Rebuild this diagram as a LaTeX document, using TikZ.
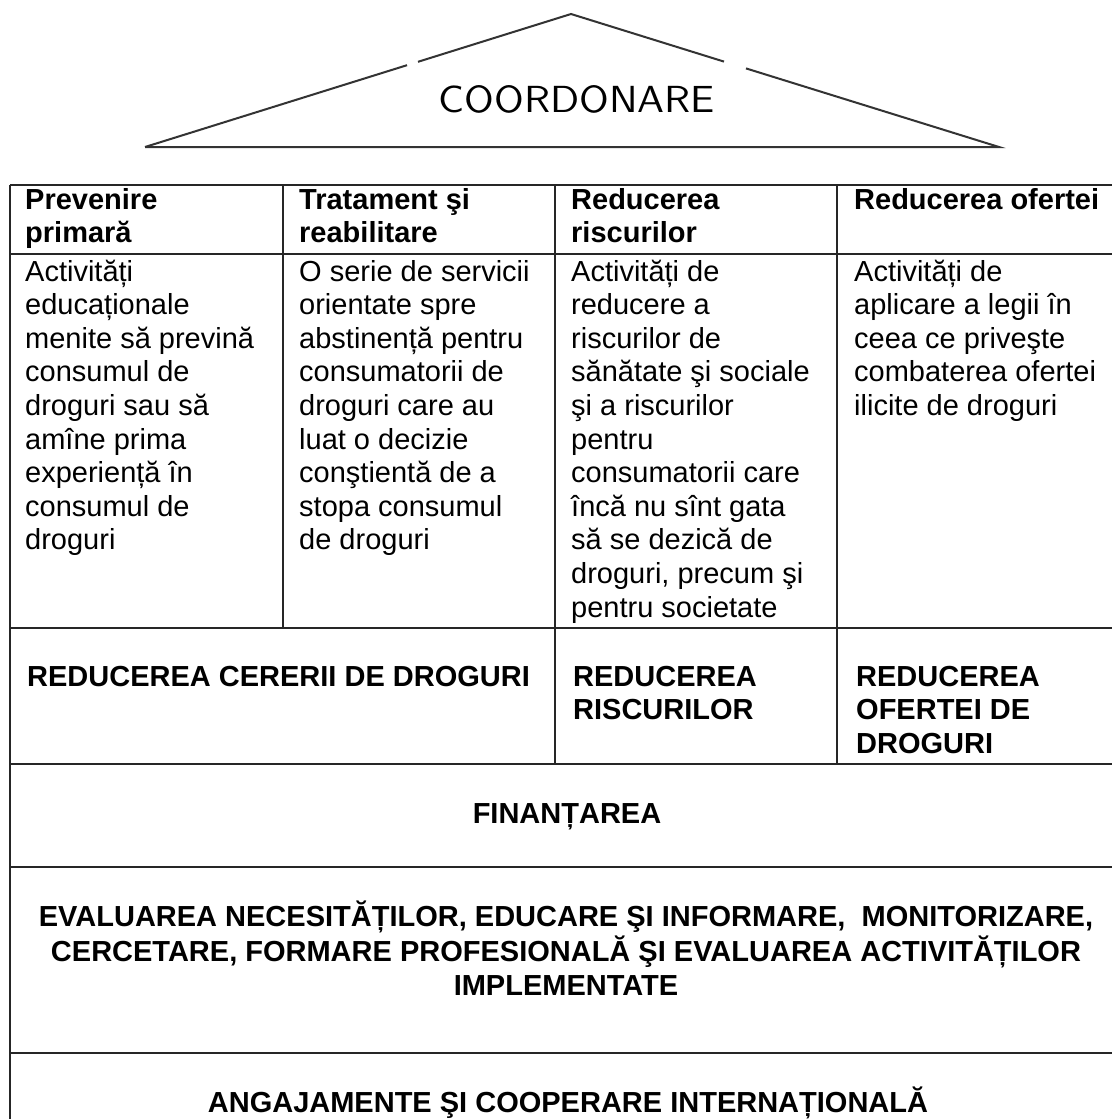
\documentclass[tikz,border=0pt]{standalone}
\usepackage{fontspec}
\usepackage{graphicx}
\setmainfont{Liberation Sans}
\newcommand{\lns}[2][l]{\begin{tabular}[t]{@{}#1@{}}#2\end{tabular}}
\begin{document}
\begin{tikzpicture}[x=1pt,y=-1pt,
  rule/.style={line width=2pt, draw=black!85},
  roof/.style={line width=2pt, draw=black!80},
  hd/.style={anchor=base west, inner sep=0pt, font=\fontsize{29}{33.6}\selectfont\bfseries},
  bd/.style={anchor=base west, inner sep=0pt, font=\fontsize{29}{33.6}\selectfont},
  ct/.style={anchor=base, inner sep=0pt, font=\fontsize{29}{33.6}\selectfont\bfseries},
  ttl/.style={anchor=base, inner sep=0pt}]
\fill[white] (0,0) rectangle (1111,1119);
\useasboundingbox (0,0) rectangle (1111,1119);

% roof
\coordinate (apex) at (571,14);
\coordinate (bl) at (145,147);
\coordinate (br) at (999,147);
\coordinate (gl1) at (407,65.2);
\coordinate (gl2) at (418,61.8);
\coordinate (gr1) at (724,61.6);
\coordinate (gr2) at (746,68.4);
\draw[roof] (bl) -- (gl1) (gl2) -- (apex) -- (gr1) (gr2) -- (br) -- (bl);
\node[ttl] (coord) at (577,112) {\resizebox{276pt}{27pt}{\sffamily COORDONARE}};

% table grid
\draw[rule] (10,185) -- (1125,185);
\draw[rule] (10,185) -- (10,1125);
\draw[rule] (10,254) -- (1125,254);
\draw[rule] (10,628) -- (1125,628);
\draw[rule] (10,764) -- (1125,764);
\draw[rule] (10,867) -- (1125,867);
\draw[rule] (10,1053) -- (1125,1053);
\draw[rule] (283,185) -- (283,628);
\draw[rule] (555,185) -- (555,764);
\draw[rule] (837,185) -- (837,764);

% header
\node[hd] (h1) at (25,209) {\lns{Prevenire\\primară}};
\node[hd] (h2) at (299,209) {\lns{Tratament şi\\reabilitare}};
\node[hd] (h3) at (571,209) {\lns{Reducerea\\riscurilor}};
\node[hd] (h4) at (854,209) {\lns{Reducerea ofertei}};

% body
\node[bd] (b1) at (25,281) {\lns{Activități\\educaționale\\menite să prevină\\consumul de\\droguri sau să\\amîne prima\\experiență în\\consumul de\\droguri}};
\node[bd] (b2) at (299,281) {\lns{O serie de servicii\\orientate spre\\abstinență pentru\\consumatorii de\\droguri care au\\luat o decizie\\conştientă de a\\stopa consumul\\de droguri}};
\node[bd] (b3) at (571,281) {\lns{Activități de\\reducere a\\riscurilor de\\sănătate şi sociale\\şi a riscurilor\\pentru\\consumatorii care\\încă nu sînt gata\\să se dezică de\\droguri, precum şi\\pentru societate}};
\node[bd] (b4) at (854,281) {\lns{Activități de\\aplicare a legii în\\ceea ce priveşte\\combaterea ofertei\\ilicite de droguri}};

% row 3
\node[hd] (r1) at (27,686) {\lns{REDUCEREA CERERII DE DROGURI}};
\node[hd] (r2) at (573,686) {\lns{REDUCEREA\\RISCURILOR}};
\node[hd] (r3) at (856,686) {\lns{REDUCEREA\\OFERTEI DE\\DROGURI}};

% full rows
\node[ct] (fin) at (567,823) {FINANȚAREA};
\node[ct] (eval) at (566,926) {\lns[c]{EVALUAREA NECESITĂȚILOR, EDUCARE ŞI INFORMARE,~ MONITORIZARE,\\CERCETARE, FORMARE PROFESIONALĂ ŞI EVALUAREA ACTIVITĂȚILOR\\IMPLEMENTATE}};
\node[ct] (ang) at (568,1112) {ANGAJAMENTE ŞI COOPERARE INTERNAȚIONALĂ};
\end{tikzpicture}
\end{document}
